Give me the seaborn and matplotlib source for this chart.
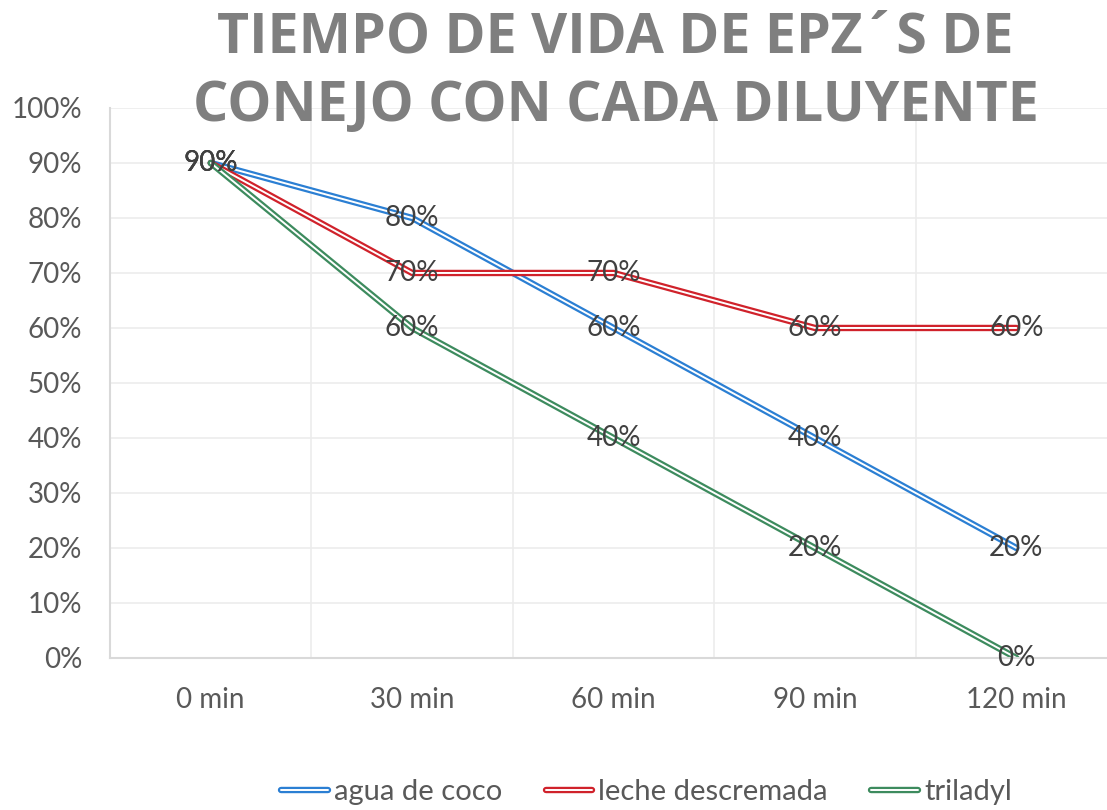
import matplotlib
matplotlib.use('Agg')
import matplotlib.pyplot as plt
import matplotlib.patheffects as pe
from matplotlib.ticker import FixedLocator, FuncFormatter
import pandas as pd
import seaborn as sns

# data
tiempos = ['0 min', '30 min', '60 min', '90 min', '120 min']
agua_de_coco = [90, 80, 60, 40, 20]
leche_descremada = [90, 70, 70, 60, 60]
triladyl = [90, 60, 40, 20, 0]

series = ['agua de coco', 'leche descremada', 'triladyl']
colores = ['#2b7fd3', '#d0222b', '#3d8b5e']

df = pd.DataFrame({
    'tiempo': tiempos * 3,
    'valor': agua_de_coco + leche_descremada + triladyl,
    'serie': [s for s in series for _ in tiempos],
})
df['x'] = df['tiempo'].map({t: i for i, t in enumerate(tiempos)})

sns.set_style('white')
plt.rcParams['font.family'] = ['Lato', 'DejaVu Sans']

fig = plt.figure(figsize=(11.07, 8.1), dpi=100)
ax = fig.add_axes([0.0994, 0.1877, 0.9097, 0.679])

sns.lineplot(data=df, x='x', y='valor', hue='serie', palette=colores,
             linewidth=4.6, sort=False, ax=ax, legend=True)

# double line look: white core over the coloured stroke
for ln in ax.get_lines():
    ln.set_path_effects([pe.Normal(), pe.Stroke(linewidth=1.4, foreground='white')])

# data labels, centered on each point
for s in series:
    sub = df[df['serie'] == s]
    for xv, v in zip(sub['x'], sub['valor']):
        ax.text(xv, v, f'{v}%', ha='center', va='center', fontsize=20, color='#404040', zorder=5)

ax.set_xlim(-0.5, 4.5)
ax.set_ylim(0, 100)
ax.xaxis.set_major_locator(FixedLocator(range(len(tiempos))))
ax.set_xticklabels(tiempos)
ax.xaxis.set_minor_locator(FixedLocator([0.5, 1.5, 2.5, 3.5]))
ax.yaxis.set_major_locator(FixedLocator(range(0, 101, 10)))
ax.yaxis.set_major_formatter(FuncFormatter(lambda v, p: f'{int(v)}%'))
ax.tick_params(axis='both', length=0, labelsize=20, labelcolor='#595959')
ax.tick_params(axis='y', pad=20)
ax.tick_params(axis='x', pad=21)
ax.set_xlabel('')
ax.set_ylabel('')

ax.grid(axis='y', which='major', color='#ececec', linewidth=1.2)
ax.grid(axis='x', which='minor', color='#ececec', linewidth=1.2)
ax.set_axisbelow(True)
for side in ['top', 'right']:
    ax.spines[side].set_visible(False)
for side in ['left', 'bottom']:
    ax.spines[side].set_color('#d9d9d9')
    ax.spines[side].set_linewidth(1.5)

titulo = ['TIEMPO DE VIDA DE EPZ´S DE', 'CONEJO CON CADA DILUYENTE']
for yy, linea in zip([0.953, 0.869], titulo):
    fig.text(0.556, yy, linea, ha='center', va='center', fontsize=40, fontweight='bold',
             color='#7f7f7f', family='Open Sans')

handles, labels = ax.get_legend_handles_labels()
ax.legend(handles, labels, loc='center', bbox_to_anchor=(0.584, 0.022),
          bbox_transform=fig.transFigure, ncol=3, frameon=False, fontsize=21,
          labelcolor='#595959', handlelength=1.6, handletextpad=0.2, columnspacing=1.5)

fig.savefig('out.png', dpi=100)
